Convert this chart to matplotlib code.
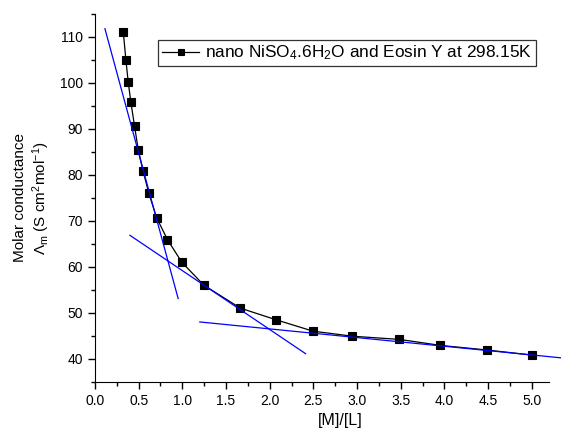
import numpy as np
import matplotlib.pyplot as plt
from matplotlib.ticker import MultipleLocator

plt.rcParams['font.family'] = ['Liberation Sans', 'DejaVu Sans']
plt.rcParams['mathtext.fontset'] = 'custom'
plt.rcParams['mathtext.rm'] = 'Liberation Sans'
plt.rcParams['mathtext.it'] = 'Liberation Sans:italic'

# measured data: [M]/[L] vs molar conductance
ratio = [0.324, 0.354, 0.381, 0.411, 0.453, 0.495, 0.549, 0.617, 0.705, 0.830,
         0.994, 1.246, 1.665, 2.069, 2.495, 2.945, 3.486, 3.954, 4.487, 4.998]
cond = [111.1, 105.0, 100.1, 95.8, 90.6, 85.5, 80.9, 76.0, 70.7, 65.9,
        61.0, 56.0, 51.0, 48.5, 46.0, 44.9, 44.2, 42.9, 41.9, 40.8]

# tangent lines (start x, end x, start y, end y)
tan1_x = [0.114, 0.952]
tan1_y = [111.8, 53.1]
tan2_x = [0.40, 2.411]
tan2_y = [66.85, 41.1]
tan3_x = [1.20, 5.33]
tan3_y = [48.0, 40.2]

fig = plt.figure(figsize=(5.61, 4.34), dpi=100)
ax = fig.add_axes([0.1693, 0.1205, 0.8097, 0.8472])

ax.plot(ratio, cond, color='black', lw=0.9, marker='s', ms=5.8, mew=0.8,
        label='nano $\\mathregular{NiSO_4.6H_2O}$ and Eosin Y at 298.15K')
for tx, ty in [(tan1_x, tan1_y), (tan2_x, tan2_y), (tan3_x, tan3_y)]:
    ax.plot(tx, ty, color='blue', lw=0.9, clip_on=False)

ax.set_xlim(0, 5.2)
ax.set_ylim(35, 115)
ax.xaxis.set_major_locator(MultipleLocator(0.5))
ax.xaxis.set_minor_locator(MultipleLocator(0.25))
ax.yaxis.set_major_locator(MultipleLocator(10))
ax.yaxis.set_minor_locator(MultipleLocator(5))
ax.set_yticks(np.arange(40, 111, 10))
ax.tick_params(which='major', direction='out', length=5, width=1, labelsize=10)
ax.tick_params(which='minor', direction='out', length=3, width=1)
ax.spines['top'].set_visible(False)
ax.spines['right'].set_visible(False)

ax.set_xlabel('[M]/[L]', fontsize=11.5)
ax.xaxis.set_label_coords(0.539, -0.085)
ax.set_ylabel('Molar conductance\n$\\mathregular{\\Lambda_m}$ (S cm$\\mathregular{^2}$mol$\\mathregular{^{-1}}$)',
              fontsize=11, labelpad=6)

leg = ax.legend(loc='upper left', bbox_to_anchor=(0.139, 0.929), fontsize=12.4,
                frameon=True, fancybox=False, edgecolor='black', markerscale=0.8,
                handlelength=2.2, handletextpad=0.35, borderpad=0.2,
                borderaxespad=0)
leg.get_frame().set_linewidth(0.9)

fig.savefig('out.png', dpi=100)
